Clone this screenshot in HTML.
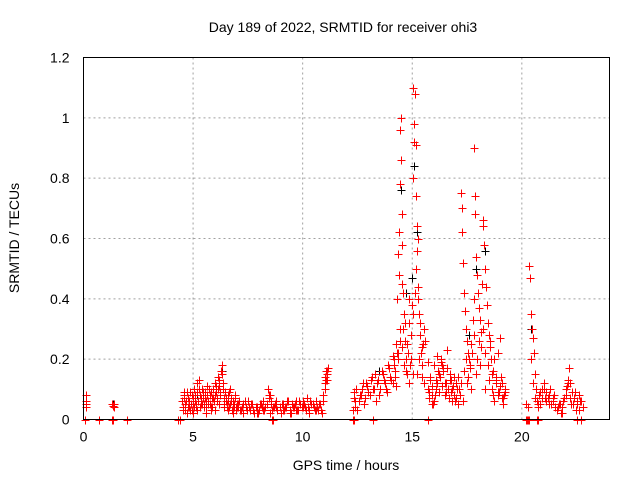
<!DOCTYPE html>
<html><head><meta charset="utf-8">
<style>
html,body{margin:0;padding:0;background:#fff;}
svg{display:block;font-family:"Liberation Sans",sans-serif;}
</style></head>
<body>
<svg id="chart" width="640" height="480" viewBox="0 0 640 480">
<rect width="640" height="480" fill="#fff"/>
<text x="343" y="32" font-size="14" text-anchor="middle" fill="#000">Day 189 of 2022, SRMTID for receiver ohi3</text>
<g id="grid"></g>
<g id="ticks"></g>
<g id="series-black"></g>
<g id="series-red"></g>
<rect x="83.5" y="57.5" width="526" height="362" fill="none" stroke="#000" stroke-width="1"/>
<text x="346" y="470" font-size="14" text-anchor="middle">GPS time / hours</text>
<text x="19" y="238" font-size="14" text-anchor="middle" transform="rotate(-90 19 238)">SRMTID / TECUs</text>
</svg>
<script>
const xTicks=[0,5,10,15,20];
const yTicks=[0,0.2,0.4,0.6,0.8,1,1.2];
const yTickLabels=["0","0.2","0.4","0.6","0.8","1","1.2"];
// red series [hour, TECU]
const redT=[0.1,0.1,0.12,0.12,1.3,1.35,1.4,1.38,
4.5,4.55,4.6,4.65,4.7,4.75,4.8,4.85,4.9,4.95,5.0,5.05,5.1,5.15,5.2,5.25,5.3,5.35,5.4,5.45,5.5,5.55,5.6,5.65,5.7,5.75,5.8,5.85,5.9,5.95,6.0,6.05,6.1,6.15,6.2,6.25,6.3,6.32,6.35,6.4,6.45,6.5,6.55,6.6,6.65,6.7,6.75,6.8,6.85,6.9,6.95,7.0,7.05,7.1,7.2,7.3,7.4,7.5,7.6,7.7,7.8,7.9,8.0,8.1,8.2,8.3,8.4,8.45,8.5,8.55,8.6,8.7,8.8,9.0,9.1,9.2,9.3,9.4,9.5,9.6,9.7,9.8,9.9,10.0,10.1,10.2,10.3,10.4,10.5,10.6,10.7,10.8,10.9,10.95,11.0,11.05,11.1,11.15,11.1,11.0,
4.6,4.8,5.0,5.2,5.4,5.6,5.8,6.0,6.2,6.4,6.6,6.8,7.0,7.3,7.6,7.9,8.2,8.5,8.8,9.1,9.4,9.7,10.0,10.3,10.6,10.9,
12.3,12.35,12.4,12.5,12.6,12.7,12.8,12.9,13.0,13.1,13.2,13.3,13.4,13.5,13.6,13.7,13.8,13.9,14.0,14.1,14.15,14.2,14.25,
14.3,14.32,14.35,14.38,14.4,14.42,14.45,14.48,14.5,14.52,14.55,14.58,14.6,14.62,14.65,14.7,14.75,14.8,14.85,14.9,14.95,
15.0,15.02,15.05,15.08,15.1,15.12,15.15,15.18,15.2,15.22,15.25,15.28,15.3,15.35,15.4,15.45,15.5,15.55,15.6,
14.35,14.45,14.55,14.65,14.75,14.85,14.95,15.05,15.15,15.25,15.35,15.45,
15.7,15.8,15.9,16.0,16.1,16.2,16.3,16.4,16.5,16.6,16.7,16.8,16.9,17.0,17.1,15.75,15.95,16.15,16.35,16.55,16.75,16.95,
17.2,17.22,17.25,17.28,17.3,17.35,17.4,17.45,17.5,17.55,17.6,17.65,17.7,17.75,17.8,17.82,17.85,17.88,17.9,17.95,18.0,18.05,18.1,18.15,18.2,18.22,18.25,18.28,18.3,18.35,18.4,18.45,18.5,18.55,18.6,18.7,18.8,18.9,19.0,19.1,19.2,19.25,
17.3,17.5,17.7,17.9,18.1,18.3,18.5,18.7,18.9,19.1,
20.2,20.3,20.32,20.35,20.4,20.45,20.5,20.55,20.6,20.65,20.7,20.75,20.8,20.9,21.0,21.1,21.2,21.3,21.4,21.5,21.6,21.7,21.8,21.9,22.0,22.05,22.1,22.15,22.2,22.3,22.4,22.5,22.6,22.7,22.8,20.85,21.05,21.25,21.45,21.65,21.85,22.25,22.45,22.65];
const redV=[0.08,0.05,0.04,0.06,0.05,0.045,0.05,0.04,
0.06,0.03,0.08,0.05,0.02,0.07,0.04,0.09,0.05,0.03,0.07,0.1,0.06,0.04,0.12,0.13,0.08,0.05,0.1,0.07,0.04,0.09,0.06,0.11,0.05,0.08,0.03,0.07,0.1,0.06,0.12,0.09,0.07,0.14,0.11,0.08,0.18,0.15,0.12,0.07,0.09,0.06,0.05,0.08,0.04,0.1,0.06,0.04,0.05,0.07,0.03,0.05,0.04,0.06,0.03,0.05,0.04,0.06,0.03,0.05,0.02,0.04,0.03,0.05,0.06,0.04,0.1,0.07,0.08,0.05,0.03,0.04,0.06,0.02,0.05,0.04,0.06,0.03,0.05,0.04,0.06,0.03,0.05,0.06,0.04,0.07,0.03,0.05,0.04,0.06,0.03,0.05,0.02,0.06,0.1,0.13,0.15,0.17,0.16,0.12,0.09,
0.04,0.02,0.03,0.05,0.02,0.04,0.03,0.05,0.04,0.03,0.02,0.04,0.02,0.03,0.02,0.03,0.02,0.04,0.03,0.02,0.03,0.04,0.02,0.03,0.02,0.03,
0.09,0.06,0.03,0.08,0.1,0.05,0.12,0.09,0.13,0.1,0.15,0.12,0.08,0.16,0.13,0.1,0.18,0.14,0.12,0.2,0.16,0.11,0.22,
0.4,0.55,0.62,0.48,0.78,0.96,1.0,0.86,0.58,0.68,0.42,0.3,0.35,0.26,0.2,0.15,0.22,0.32,0.18,0.28,0.38,
0.8,1.1,0.98,0.92,1.08,0.91,0.74,0.64,0.56,0.6,0.44,0.35,0.28,0.22,0.18,0.25,0.3,0.26,0.2,
0.3,0.45,0.32,0.25,0.4,0.2,0.15,0.5,0.4,0.32,0.24,0.19,
0.13,0.08,0.06,0.1,0.15,0.2,0.17,0.12,0.23,0.15,0.1,0.14,0.07,0.05,0.09,0.05,0.12,0.18,0.09,0.13,0.06,0.08,
0.75,0.7,0.62,0.52,0.42,0.36,0.3,0.26,0.22,0.2,0.17,0.25,0.33,0.4,0.9,0.74,0.68,0.54,0.48,0.42,0.37,0.33,0.29,0.45,0.66,0.64,0.58,0.5,0.44,0.38,0.32,0.28,0.24,0.2,0.16,0.14,0.22,0.27,0.12,0.08,0.1,0.06,
0.12,0.1,0.15,0.18,0.1,0.13,0.08,0.09,0.07,0.05,
0.04,0.51,0.47,0.35,0.3,0.27,0.22,0.15,0.1,0.06,0.04,0.08,0.1,0.12,0.09,0.07,0.1,0.06,0.04,0.03,0.05,0.02,0.06,0.08,0.11,0.13,0.17,0.12,0.09,0.07,0.05,0.08,0.06,0.04,0.05,0.07,0.05,0.08,0.04,0.02,0.05,0.03,0.06,0.04];
// additional red samples filling the dense low-value bands
const redT2=[4.52,4.58,4.63,4.68,4.73,4.78,4.83,4.88,4.93,4.98,5.03,5.08,5.13,5.18,5.23,5.28,5.33,5.38,5.43,5.48,5.53,5.58,5.63,5.68,5.73,5.78,5.83,5.88,5.93,5.98,6.03,6.08,6.13,6.18,6.23,6.28,6.38,6.43,6.48,6.53,6.58,6.63,6.68,6.73,6.78,6.83,6.88,6.93,6.98,7.05,7.15,7.25,7.35,7.45,7.55,7.65,7.75,7.85,7.95,8.05,8.15,8.25,8.35,8.45,8.55,8.65,8.75,8.85,8.95,9.05,9.15,9.25,9.35,9.45,9.55,9.65,9.75,9.85,9.95,10.05,10.15,10.25,10.35,10.45,10.55,10.65,10.75,10.85,10.92,11.02,11.08,11.12,
12.32,12.38,12.45,12.55,12.65,12.75,12.85,12.95,13.05,13.15,13.25,13.35,13.45,13.55,13.65,13.75,13.85,13.95,14.05,14.12,14.18,14.22,14.28,
14.33,14.43,14.53,14.63,14.73,14.83,14.93,15.03,15.13,15.23,15.33,15.43,15.53,
15.72,15.78,15.82,15.88,15.92,15.98,16.02,16.08,16.12,16.18,16.22,16.28,16.32,16.38,16.42,16.48,16.52,16.58,16.62,16.68,16.72,16.78,16.82,16.88,16.92,16.98,17.02,17.08,17.12,
17.24,17.34,17.44,17.54,17.64,17.74,17.84,17.94,18.04,18.14,18.24,18.34,18.44,18.54,18.64,18.74,18.84,18.94,19.04,19.14,19.22,18.62,18.72,18.82,18.92,19.02,19.12,
20.42,20.52,20.62,20.72,20.82,20.92,21.02,21.12,21.22,21.32,21.42,21.52,21.62,21.72,21.82,21.92,22.02,22.12,22.22,22.32,22.42,22.52,22.62,22.72,22.78];
const redV2=[0.04,0.07,0.03,0.06,0.09,0.04,0.06,0.03,0.08,0.05,0.04,0.08,0.05,0.09,0.06,0.1,0.04,0.07,0.09,0.05,0.07,0.04,0.08,0.06,0.1,0.05,0.09,0.04,0.07,0.08,0.11,0.06,0.1,0.13,0.09,0.16,0.1,0.05,0.07,0.04,0.06,0.09,0.05,0.07,0.03,0.06,0.04,0.08,0.04,0.05,0.03,0.04,0.06,0.03,0.04,0.05,0.03,0.04,0.02,0.05,0.04,0.03,0.05,0.08,0.06,0.04,0.05,0.03,0.04,0.05,0.03,0.04,0.06,0.02,0.04,0.05,0.03,0.06,0.04,0.05,0.03,0.04,0.06,0.05,0.03,0.04,0.05,0.03,0.08,0.14,0.16,0.13,
0.07,0.04,0.1,0.06,0.08,0.12,0.07,0.11,0.08,0.14,0.1,0.06,0.13,0.1,0.15,0.12,0.09,0.17,0.13,0.21,0.18,0.14,0.25,
0.22,0.26,0.24,0.18,0.16,0.12,0.2,0.35,0.42,0.15,0.2,0.14,0.12,
0.1,0.07,0.14,0.05,0.11,0.18,0.08,0.13,0.21,0.16,0.09,0.14,0.19,0.11,0.16,0.08,0.12,0.17,0.1,0.07,0.13,0.09,0.06,0.11,0.08,0.12,0.1,0.14,0.1,
0.12,0.16,0.2,0.14,0.18,0.22,0.28,0.2,0.26,0.24,0.3,0.22,0.18,0.26,0.15,0.2,0.12,0.09,0.14,0.07,0.09,0.1,0.06,0.13,0.08,0.11,0.05,
0.2,0.12,0.07,0.05,0.09,0.07,0.1,0.06,0.08,0.05,0.07,0.04,0.03,0.05,0.04,0.07,0.1,0.12,0.07,0.05,0.09,0.06,0.03,0.06,0.04];
// zero-valued samples (plotted on the x axis)
const zeroT=[0.05,0.08,0.7,0.73,1.3,1.33,2.0,4.3,4.33,4.4,8.6,8.63,12.3,12.33,13.2,15.7,20.2,20.23,20.3,20.33,20.7,20.73,22.5,22.7];
// black series (mostly hidden beneath red)
const blackT=[0.1,1.35,5.2,6.3,8.4,11.0,12.7,13.5,14.4,14.5,14.7,15.0,15.1,15.2,17.6,17.9,18.3,20.4];
const blackV=[0.06,0.05,0.08,0.16,0.1,0.14,0.1,0.16,0.48,0.76,0.42,0.47,0.84,0.62,0.28,0.5,0.56,0.3];

const X0=83.5,X1=609.5,Y0=419.5,Y1=57.5,XMAX=24,YMAX=1.2;
function xs(t){return X0+(X1-X0)*t/XMAX;}
function ys(v){return Y0-(Y0-Y1)*v/YMAX;}
const NS="http://www.w3.org/2000/svg";
function mk(tag,attrs,parent){const e=document.createElementNS(NS,tag);for(const k in attrs)e.setAttribute(k,attrs[k]);parent.appendChild(e);return e;}
const grid=document.getElementById('grid'),ticks=document.getElementById('ticks');
xTicks.forEach(t=>{
  const x=xs(t);
  if(t>0){const g=mk('line',{x1:x,x2:x,y1:Y1,y2:Y0,stroke:'#a0a0a0','stroke-dasharray':'2,3'},grid);
  
  }
  const tx=mk('text',{x:x,y:Y0+22,'font-size':14,'text-anchor':'middle'},ticks);
  tx.textContent=String(t);
  
  
});
yTicks.forEach((v,i)=>{
  const y=ys(v);
  if(v>0&&v<1.2){const g=mk('line',{x1:X0,x2:X1,y1:y,y2:y,stroke:'#a0a0a0','stroke-dasharray':'2,3'},grid);
  
  }
  const tx=mk('text',{x:X0-14,y:y+5,'font-size':14,'text-anchor':'end'},ticks);
  tx.textContent=yTickLabels[i];
  
  
});
function plus(parent,t,v,color,name){
  const x=Math.round(xs(t))+0.5,y=Math.round(ys(v))+0.5;
  const p=mk('path',{d:`M${x-4} ${y}H${x+4}M${x} ${y-4}V${y+4}`,stroke:color,'stroke-width':1,fill:'none'},parent);
  
  
}
const gb=document.getElementById('series-black'),gr=document.getElementById('series-red');
blackT.forEach((t,i)=>plus(gb,t,blackV[i],'#000','black-point'));
redT.forEach((t,i)=>plus(gr,t,redV[i],'#ff0000','red-point'));
redT2.forEach((t,i)=>plus(gr,t,redV2[i],'#ff0000','red-point'));
zeroT.forEach(t=>plus(gr,t,0,'#ff0000','zero-point'));
</script>
</body></html>
